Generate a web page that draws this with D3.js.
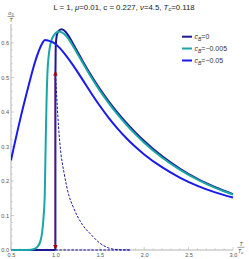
<!DOCTYPE html>
<html><head><meta charset="utf-8">
<script src="https://cdn.jsdelivr.net/npm/d3@7"></script>
<style>
html,body{margin:0;padding:0;background:#fff;}
svg{display:block;font-family:"Liberation Sans",Arial,sans-serif;}
</style></head>
<body><svg id="c" width="249" height="259"></svg>
<script>
// ---- data ----
const xTicks = [0.5, 1.0, 1.5, 2.0, 2.5, 3.0];
const yTicks = [0.0, 0.1, 0.2, 0.3, 0.4, 0.5, 0.6];
const legendLabels = ["c_B=0", "c_B=\u22120.005", "c_B=\u22120.05"];

// c_B = 0 (stable branch, with jump at T/Tc = 1)
const navyZeroT = [0.5, 1.0];
const navyZeroV = [0, 0];
const navyJumpT = [1.0, 1.0];
const navyJumpV = [0, 0.5];
const navyT = [1.0, 1.003, 1.01, 1.03, 1.07, 1.1, 1.15, 1.2, 1.3, 1.4, 1.5, 1.6, 1.7, 1.8, 1.9, 2.0, 2.2, 2.4, 2.6, 2.8, 3.0];
const navyV = [0.5, 0.58, 0.612, 0.633, 0.64, 0.636, 0.62, 0.597, 0.551, 0.507, 0.467, 0.431, 0.398, 0.368, 0.341, 0.316, 0.272, 0.236, 0.206, 0.182, 0.162];
// c_B = 0 unstable branches (dashed)
const dashT = [1.0, 1.02, 1.05, 1.1, 1.15, 1.2, 1.3, 1.4, 1.5, 1.6, 1.7, 1.85];
const dashV = [0.52, 0.42, 0.31, 0.22, 0.16, 0.125, 0.075, 0.045, 0.02, 0.006, 0.001, 0];
const dashZeroT = [1.0, 1.85];
const dashZeroV = [0, 0];

// c_B = -0.005
const tealT = [0.5, 0.7, 0.75, 0.8, 0.83, 0.85, 0.865, 0.88, 0.89, 0.9, 0.91, 0.93, 0.95, 0.98, 1.01, 1.04, 1.1, 1.15, 1.2, 1.3, 1.4, 1.5, 1.6, 1.7, 1.8, 1.9, 2.0, 2.2, 2.4, 2.6, 2.8, 3.0];
const tealV = [0, 0, 0.002, 0.01, 0.025, 0.05, 0.09, 0.16, 0.3, 0.43, 0.51, 0.575, 0.603, 0.621, 0.63, 0.633, 0.626, 0.611, 0.59, 0.546, 0.502, 0.462, 0.426, 0.393, 0.363, 0.336, 0.311, 0.268, 0.233, 0.204, 0.18, 0.161];

// c_B = -0.05
const blueT = [0.5, 0.6, 0.7, 0.75, 0.8, 0.85, 0.883, 0.92, 0.96, 1.0, 1.05, 1.1, 1.2, 1.3, 1.4, 1.5, 1.6, 1.7, 1.8, 1.9, 2.0, 2.2, 2.4, 2.6, 2.8, 3.0];
const blueV = [0.26, 0.375, 0.478, 0.527, 0.568, 0.598, 0.609, 0.607, 0.603, 0.597, 0.585, 0.57, 0.535, 0.496, 0.456, 0.418, 0.383, 0.352, 0.324, 0.299, 0.277, 0.24, 0.21, 0.186, 0.167, 0.152];

// transition arrow
const arrowT = 1.0;
const arrowV = [0, 0.52];

// ---- drawing ----
const svg = d3.select("#c");
const x = d3.scaleLinear().domain([0.5, 3.0]).range([11, 233]);
const y = d3.scaleLinear().domain([0, 0.6]).range([250, 43]);

const navy = "#1a1a99", teal = "#1aa6a6", blue = "#1a1aee", red = "#a00000";

// axes
const axisColor = "#b4b4b4", labelColor = "#555";
const xAxis = d3.axisBottom(x).tickValues(xTicks).tickFormat(d3.format(".1f")).tickSize(0).tickPadding(3);
const gx = svg.append("g").attr("transform", `translate(0,${y(0)})`).call(xAxis);
gx.select(".domain").attr("stroke", axisColor).attr("d", `M${x(0.5)},0H${x(3.0)}`);
gx.selectAll("text").attr("fill", labelColor).attr("font-size", 5.6);
const xMinor = d3.range(0.5, 3.0001, 0.1);
svg.append("g").selectAll("line").data(xMinor).join("line")
  .attr("x1", d => x(d)).attr("x2", d => x(d))
  .attr("y1", y(0)).attr("y2", d => y(0) - (Math.abs((d * 2) - Math.round(d * 2)) < 1e-6 ? 3 : 1.6))
  .attr("stroke", axisColor).attr("stroke-width", 0.6);

const yAxis = d3.axisLeft(y).tickValues(yTicks).tickFormat(d3.format(".1f")).tickSize(0).tickPadding(2);
const gy = svg.append("g").attr("transform", `translate(${x(0.5)},0)`).call(yAxis);
gy.select(".domain").attr("stroke", axisColor).attr("d", `M0,${y(0)}V${y(0.655)}`);
gy.selectAll("text").attr("fill", labelColor).attr("font-size", 5.6);
const yMinor = d3.range(0, 0.6501, 0.02);
svg.append("g").selectAll("line").data(yMinor).join("line")
  .attr("x1", x(0.5)).attr("x2", d => x(0.5) + (Math.abs(d * 10 - Math.round(d * 10)) < 1e-6 ? 3 : 1.6))
  .attr("y1", d => y(d)).attr("y2", d => y(d))
  .attr("stroke", axisColor).attr("stroke-width", 0.6);

// clip
svg.append("clipPath").attr("id", "clip").append("rect")
  .attr("x", x(0.5)).attr("y", 20).attr("width", x(3.0) - x(0.5) + 2).attr("height", y(0) - 20 + 2);
const plot = svg.append("g").attr("clip-path", "url(#clip)");

const line = d3.line().x(d => x(d[0])).y(d => y(d[1])).curve(d3.curveMonotoneX);
const straight = d3.line().x(d => x(d[0])).y(d => y(d[1]));
const zip = (a, b) => a.map((t, i) => [t, b[i]]);

// dashed unstable branches
plot.append("path").attr("d", straight(zip(dashZeroT, dashZeroV))).attr("fill", "none")
  .attr("stroke", navy).attr("stroke-width", 1).attr("stroke-dasharray", "2.5,1.5");
plot.append("path").attr("d", line(zip(dashT, dashV))).attr("fill", "none")
  .attr("stroke", navy).attr("stroke-width", 1).attr("stroke-dasharray", "2.5,1.5");

// c_B = 0
plot.append("path").attr("d", straight(zip(navyZeroT, navyZeroV))).attr("fill", "none")
  .attr("stroke", navy).attr("stroke-width", 2);
plot.append("path").attr("d", straight(zip(navyJumpT, navyJumpV))).attr("fill", "none")
  .attr("stroke", navy).attr("stroke-width", 2);
plot.append("path").attr("d", line(zip(navyT, navyV))).attr("fill", "none")
  .attr("stroke", navy).attr("stroke-width", 2).attr("stroke-linejoin", "round");
// c_B = -0.005
plot.append("path").attr("d", line(zip(tealT, tealV))).attr("fill", "none")
  .attr("stroke", teal).attr("stroke-width", 2).attr("stroke-linejoin", "round");
// c_B = -0.05
plot.append("path").attr("d", line(zip(blueT, blueV))).attr("fill", "none")
  .attr("stroke", blue).attr("stroke-width", 2).attr("stroke-linejoin", "round");

// arrow
const ax = x(arrowT), a0 = y(arrowV[0]), a1 = y(arrowV[1]);
svg.append("line").attr("x1", ax).attr("x2", ax).attr("y1", a0 - 4).attr("y2", a1 + 4)
  .attr("stroke", red).attr("stroke-width", 1.2);
svg.append("path").attr("d", `M${ax},${a1}L${ax - 2.2},${a1 + 5}L${ax + 2.2},${a1 + 5}Z`).attr("fill", red);
svg.append("path").attr("d", `M${ax},${a0}L${ax - 2.2},${a0 - 5}L${ax + 2.2},${a0 - 5}Z`).attr("fill", red);

// title
const title = svg.append("text").attr("x", 124).attr("y", 9.5).attr("text-anchor", "middle")
  .attr("font-size", 7.8).attr("fill", "#222");
title.append("tspan").text("L = 1, ");
title.append("tspan").attr("font-style", "italic").text("\u03bc");
title.append("tspan").text("=0.01, c = 0.227, ");
title.append("tspan").attr("font-style", "italic").text("\u03bd");
title.append("tspan").text("=4.5, ");
title.append("tspan").attr("font-style", "italic").text("T");
title.append("tspan").attr("font-size", 5.5).attr("dy", 1.8).attr("font-style", "italic").text("c");
title.append("tspan").attr("dy", -1.8).text("=0.118");

// y label: sigma_II / T
const yl = svg.append("text").attr("x", 11).attr("y", 14.5).attr("text-anchor", "middle")
  .attr("font-size", 5.2).attr("fill", "#444").attr("font-style", "italic");
yl.append("tspan").text("\u03c3");
yl.append("tspan").attr("font-size", 3.8).attr("dy", 1).text("II");
svg.append("line").attr("x1", 7.5).attr("x2", 14.5).attr("y1", 16.5).attr("y2", 16.5).attr("stroke", "#444").attr("stroke-width", 0.5);
svg.append("text").attr("x", 11).attr("y", 21.5).attr("text-anchor", "middle").attr("font-size", 5.2)
  .attr("fill", "#444").attr("font-style", "italic").text("T");

// x label: T / Tc
svg.append("text").attr("x", 241).attr("y", 246).attr("text-anchor", "middle").attr("font-size", 5.2)
  .attr("fill", "#444").attr("font-style", "italic").text("T");
svg.append("line").attr("x1", 237.5).attr("x2", 244.5).attr("y1", 247.3).attr("y2", 247.3).attr("stroke", "#444").attr("stroke-width", 0.5);
const xl = svg.append("text").attr("x", 240.5).attr("y", 253).attr("text-anchor", "middle").attr("font-size", 5.2)
  .attr("fill", "#444").attr("font-style", "italic");
xl.append("tspan").text("T");
xl.append("tspan").attr("font-size", 3.8).attr("dy", 1).text("c");

// legend
const legColors = [navy, teal, blue];
const legY = [36.7, 48.5, 60.5];
legendLabels.forEach((lab, i) => {
  svg.append("line").attr("x1", 182).attr("x2", 192).attr("y1", legY[i]).attr("y2", legY[i])
    .attr("stroke", legColors[i]).attr("stroke-width", 2);
  const parts = lab.split("_B");
  const t = svg.append("text").attr("x", 194.5).attr("y", legY[i] + 2.4).attr("font-size", 7).attr("fill", "#333");
  t.append("tspan").attr("font-style", "italic").text(parts[0]);
  t.append("tspan").attr("font-size", 5).attr("dy", 1.6).attr("font-style", "italic").text("B");
  t.append("tspan").attr("dy", -1.6).text(parts[1]);
});
</script></body></html>
